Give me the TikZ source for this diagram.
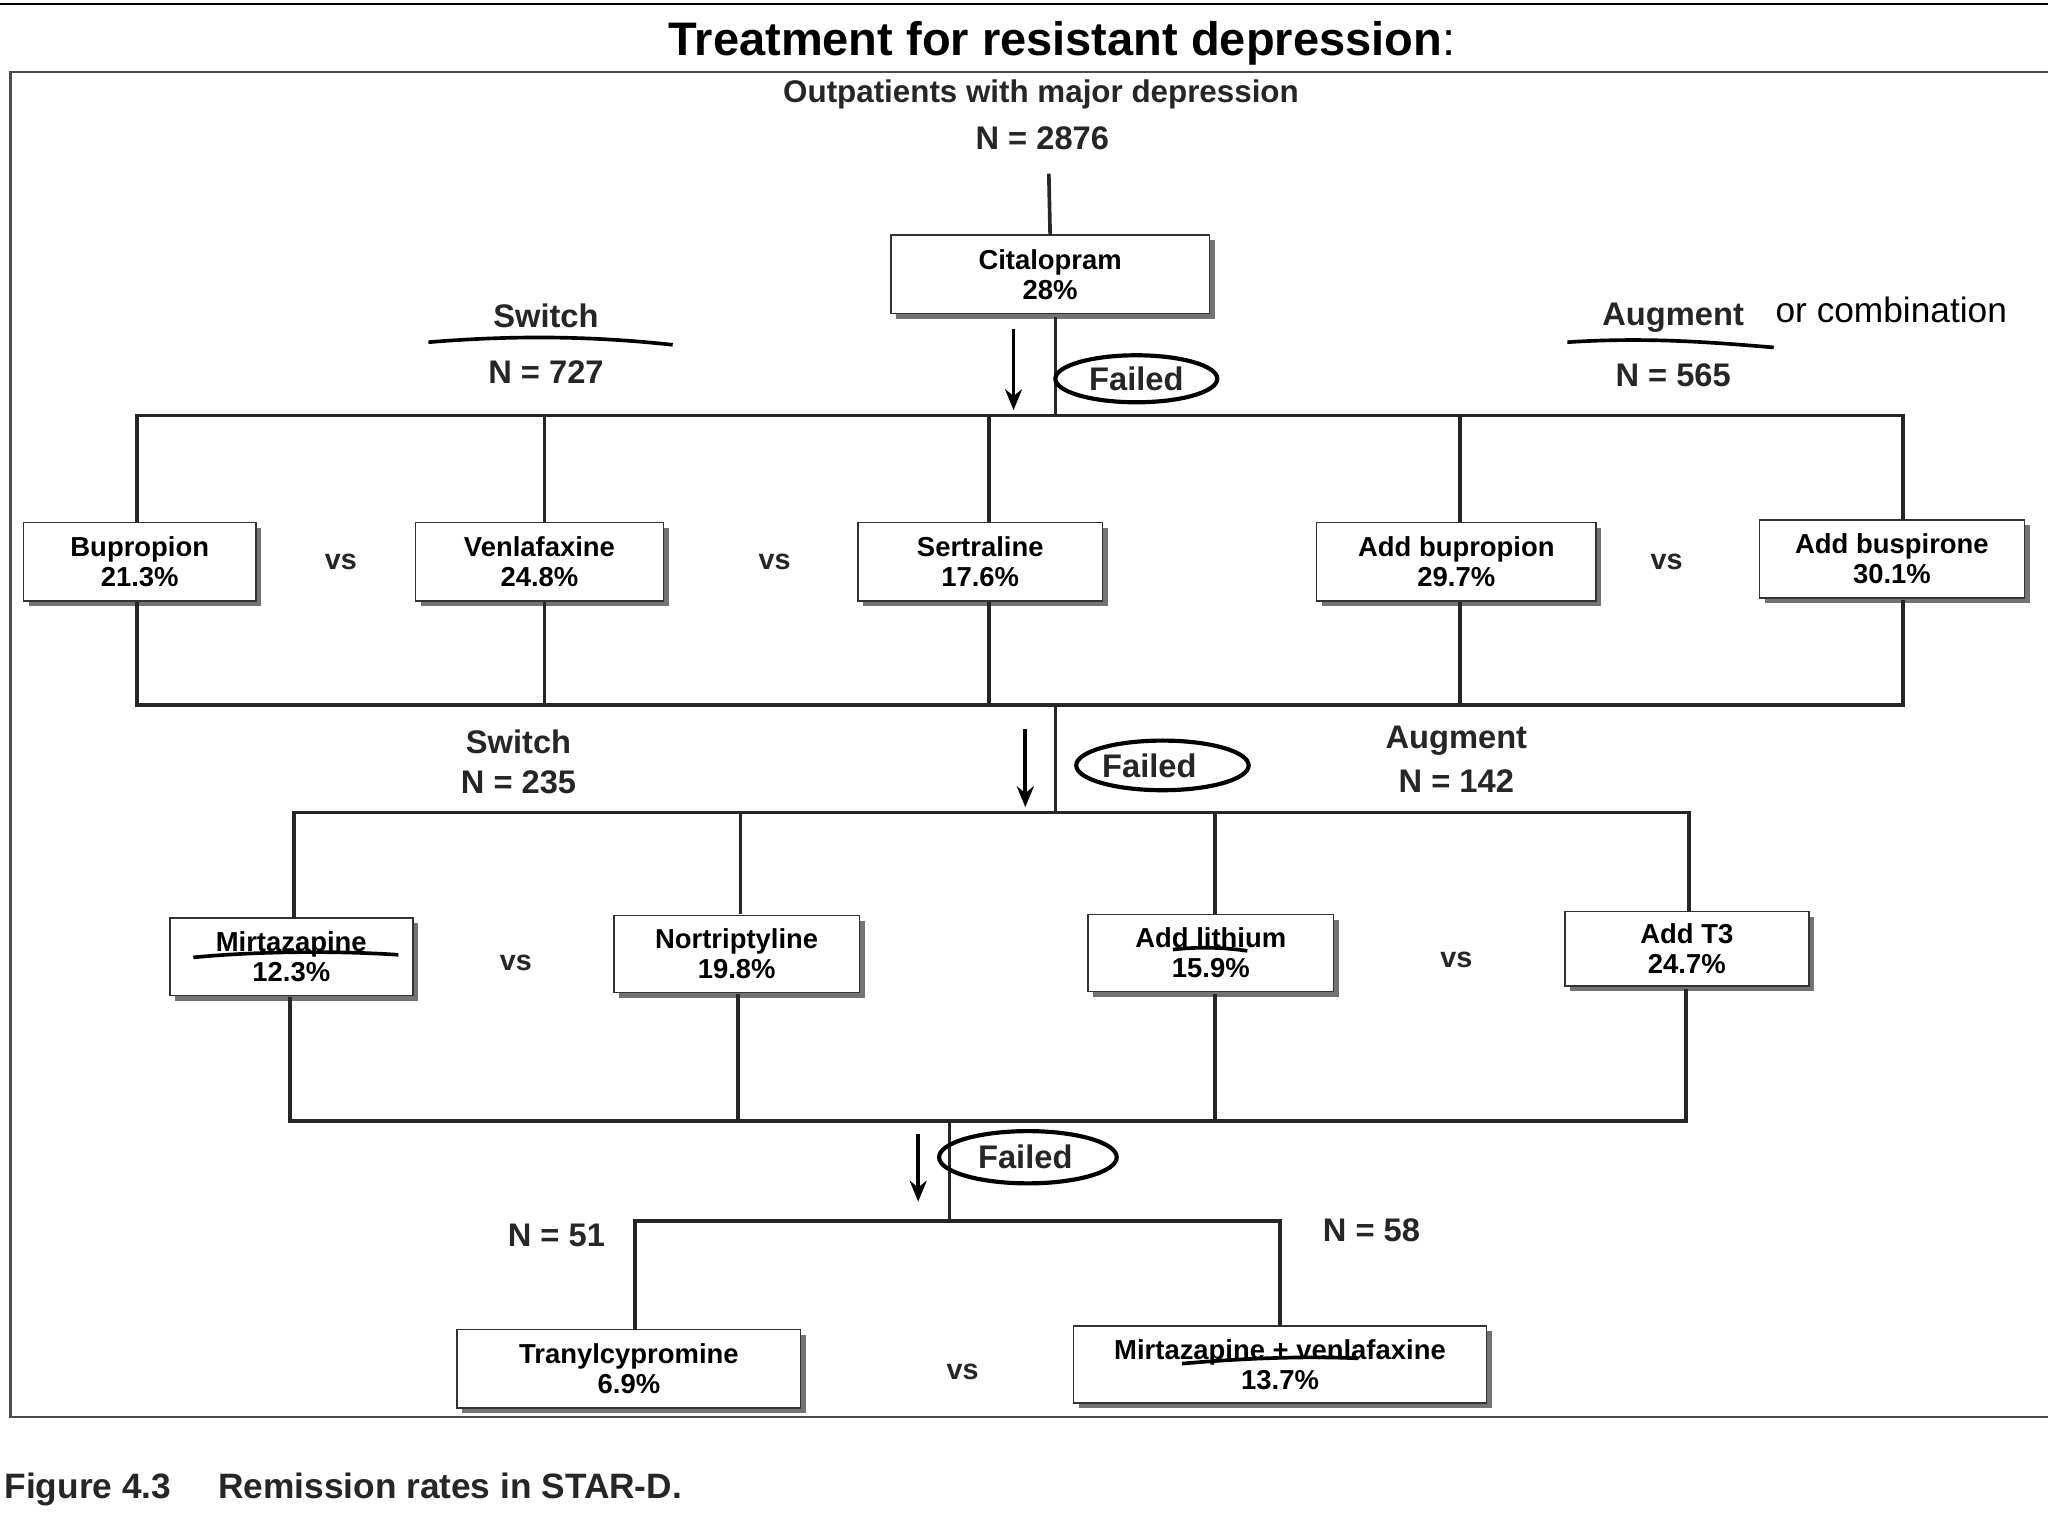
\documentclass[tikz,border=0pt]{standalone}
\usepackage{fontspec}
\setmainfont{Liberation Sans}
\usetikzlibrary{arrows.meta}
\begin{document}
\begin{tikzpicture}[x=1pt,y=-1pt,
 ln/.style={line width=2.8pt,black!85},
 bx/.style={draw=black!80,line width=1.2pt,fill=white,align=center,font=\fontsize{21}{23}\selectfont\bfseries,inner sep=0pt},
 lb/.style={font=\fontsize{25}{28}\selectfont\bfseries,text=black!85},
 vs/.style={font=\fontsize{22}{24}\selectfont\bfseries,text=black!85},
 ar/.style={line width=2.8pt,-{Stealth[length=16pt,width=13pt]}},
 ring/.style={line width=3.2pt,black},
 hand/.style={line width=2.8pt,black}]
\useasboundingbox (0,0) rectangle (1568,1176);
\fill[white] (0,0) rectangle (1568,1176);
\draw[line width=2pt] (0,3) -- (1568,3);
\draw[line width=1.8pt,black!70] (1568,55) -- (8,55) -- (8,1085) -- (1568,1085);
\node[font=\fontsize{36}{40}\selectfont\bfseries] (title) at (813,33) {Treatment for resistant depression\mdseries:};
\node[lb,font=\fontsize{24}{26}\selectfont\bfseries] (op) at (797,72) {Outpatients with major depression};
\node[lb] (n0) at (798,106) {N = 2876};
\newcommand{\bxx}[6]{\fill[black!55] (#1+4,#2+4) rectangle (#3+4,#4+4);
 \node[bx,minimum width=#3-#1,minimum height=#4-#2] (#5) at ({(#1+#3)/2},{(#2+#4)/2}) {#6};}
\bxx{682}{180}{926}{240}{cit}{Citalopram\\28\%}
\draw[ln] (803,133) -- (cit.north);
\coordinate (j1) at (808,318);
\draw[ln] (808,243) -- (j1);
\coordinate (a1t) at (776,252); \coordinate (a1b) at (776,314);
\draw[ar] (a1t) -- (a1b);
\node[lb] (f1) at (870,290) {Failed};
\draw[ring] (f1) ellipse (62 and 18);
\node[lb] (sw1) at (418,242) {Switch};
\draw[hand] (328,262) .. controls (400,256) and (460,258) .. (515,264);
\node[lb] (nsw1) at (418,285) {N = 727};
\node[lb] (au1) at (1281,243) {Augment};
\node[font=\fontsize{27}{29}\selectfont] (orc) at (1448,237) {or combination};
\draw[hand] (1200,262) .. controls (1260,258) and (1310,262) .. (1358,266);
\node[lb] (nau1) at (1281,287) {N = 565};
\bxx{18}{400}{196}{460}{b1}{Bupropion\\21.3\%}
\bxx{318}{400}{508}{460}{b2}{Venlafaxine\\24.8\%}
\bxx{657}{400}{844}{460}{b3}{Sertraline\\17.6\%}
\bxx{1008}{400}{1222}{460}{b4}{Add bupropion\\29.7\%}
\bxx{1347}{398}{1550}{458}{b5}{Add buspirone\\30.1\%}
\draw[ln] (105,400) |- (1457,318) -- (1457,398);
\foreach \x in {417,757,1118}{\draw[ln] (\x,318) -- (\x,400);}
\draw[ln] (105,461) |- (1457,540) -- (1457,459);
\foreach \x in {417,757,1118}{\draw[ln] (\x,461) -- (\x,540);}
\node[vs] (v1) at (261,430) {vs};
\node[vs] (v2) at (593,430) {vs};
\node[vs] (v3) at (1276,430) {vs};
\draw[ln] (808,540) -- (808,622);
\draw[ar] (785,558) -- (785,618);
\node[lb] (f2) at (880,586) {Failed};
\draw[ring] (890,586) ellipse (66 and 19);
\node[lb] (sw2) at (397,568) {Switch};
\node[lb] (nsw2) at (397,599) {N = 235};
\node[lb] (au2) at (1115,567) {Augment};
\node[lb] (nau2) at (1115,598) {N = 142};
\bxx{130}{703}{316}{762}{c1}{Mirtazapine\\12.3\%}
\bxx{470}{701}{658}{760}{c2}{Nortriptyline\\19.8\%}
\bxx{833}{700}{1021}{759}{c3}{Add lithium\\15.9\%}
\bxx{1198}{698}{1385}{755}{c4}{Add T3\\24.7\%}
\draw[ln] (225,703) |- (1293,622) -- (1293,698);
\foreach \x in {567,930}{\draw[ln] (\x,622) -- (\x,700);}
\draw[ln] (222,763) |- (1291,858) -- (1291,757);
\foreach \x in {565,930}{\draw[ln] (\x,761) -- (\x,858);}
\draw[hand] (148,733) .. controls (200,728) and (260,728) .. (305,731);
\draw[hand] (898,727) .. controls (915,725) and (935,725) .. (955,728);
\node[vs] (v4) at (395,737) {vs};
\node[vs] (v5) at (1115,735) {vs};
\draw[ln] (727,858) -- (727,935);
\draw[ar] (703,868) -- (703,920);
\node[lb] (f3) at (785,886) {Failed};
\draw[ring] (787,886) ellipse (68 and 20);
\node[lb] (n51) at (426,946) {N = 51};
\node[lb] (n58) at (1050,942) {N = 58};
\bxx{350}{1018}{613}{1078}{d1}{Tranylcypromine\\6.9\%}
\bxx{822}{1015}{1138}{1074}{d2}{Mirtazapine + venlafaxine\\13.7\%}
\draw[ln] (486,1018) |- (980,935) -- (980,1015);
\draw[hand] (905,1044) .. controls (950,1040) and (1000,1038) .. (1040,1040);
\node[vs] (v6) at (737,1050) {vs};
\node[anchor=west,font=\fontsize{27}{29}\selectfont\bfseries,text=black!85] (cap) at (0,1140) {Figure 4.3\hspace{36pt}Remission rates in STAR-D.};
\end{tikzpicture}
\end{document}
